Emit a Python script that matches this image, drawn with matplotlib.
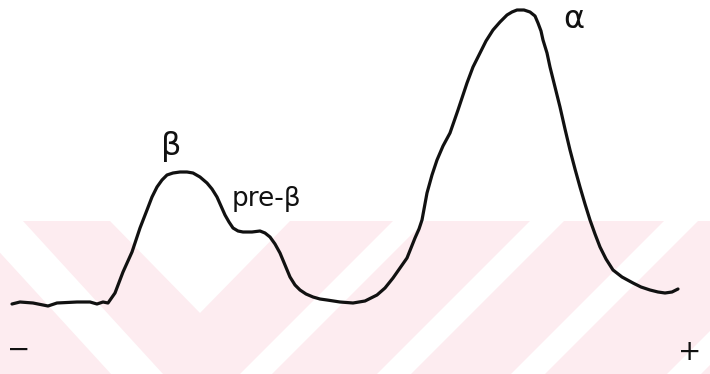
import matplotlib
matplotlib.use("Agg")
import matplotlib.pyplot as plt
from matplotlib.patches import Polygon, Rectangle

# Densitometer trace (migration position, height measured from bottom of figure)
position = [12, 20, 33, 48, 57, 77, 90, 97, 103, 108, 115, 123, 132, 140, 147, 152, 157, 162, 167,
            173, 180, 187, 193, 200, 207, 212, 217, 221, 225, 229, 233, 238, 243, 252, 260, 265, 270,
            275, 280, 285, 290, 295, 300, 306, 313, 320, 327, 340,
            353, 365, 377, 385, 393, 400, 407, 411, 415, 419, 422, 427, 432, 437, 443, 450, 458, 467,
            473, 480, 486, 493, 500, 507, 512, 517, 524, 530, 535, 538, 541, 543, 547, 550,
            555, 560, 565, 570, 575, 580, 585, 590, 595, 600, 606, 613, 622, 633, 641, 650, 658, 665, 672, 678]
ypix = [304, 302, 303, 306, 303, 302, 302, 304, 302, 303, 293, 272, 252, 228, 210, 197, 187, 180, 175,
        173, 172, 172, 173, 177, 183, 189, 197, 206, 215, 222, 228, 231, 232, 232, 231, 233, 237,
        244, 253, 265, 277, 285, 290, 294, 297, 299, 300, 302,
        303, 301, 295, 288, 278, 268, 258, 248, 238, 229, 220, 193, 175, 160, 146, 133, 110, 83,
        67, 53, 41, 30, 22, 15, 12, 10, 10, 12, 16, 23, 31, 40, 53, 67,
        87, 107, 129, 150, 169, 187, 204, 220, 234, 247, 259, 270, 277, 283, 287, 290, 292, 293, 292, 289]
H = 374
height = [H - v for v in ypix]

labels = ["β", "pre-β", "α"]
label_pos = [(171, 146), (266, 199), (574, 19)]
label_size = [23, 19, 23]
poles = ["−", "+"]
pole_pos = [(19, 350), (690, 352)]

fig = plt.figure(figsize=(7.10, 3.74), dpi=100)
ax = fig.add_axes([0, 0, 1, 1])
ax.set_xlim(0, 710)
ax.set_ylim(0, H)
ax.axis("off")

# faint watermark band
pink = "#fdecf0"
top = H - 221
ax.add_patch(Rectangle((0, 0), 710, top, facecolor=pink, edgecolor="none", zorder=0))
def wy(y):
    return H - y
white_polys = [
    [(-29, 221), (23, 221), (163, 374), (111, 374)],
    [(110, 221), (290, 221), (200, 313)],
    [(393, 221), (425, 221), (272, 374), (240, 374)],
    [(530, 221), (564, 221), (411, 374), (377, 374)],
    [(664, 221), (698, 221), (545, 374), (511, 374)],
    [(820, 221), (854, 221), (701, 374), (667, 374)],
]
for poly in white_polys:
    ax.add_patch(Polygon([(x, wy(y)) for x, y in poly], closed=True,
                         facecolor="white", edgecolor="none", zorder=0.5))

ax.plot(position, height, color="#111111", lw=2.3, solid_capstyle="round",
        solid_joinstyle="round", zorder=3)

for lab, (x, y), f in zip(labels, label_pos, label_size):
    ax.text(x, H - y, lab, fontsize=f, ha="center", va="center", color="#111111",
            family="DejaVu Sans", zorder=4)
for lab, (x, y) in zip(poles, pole_pos):
    ax.text(x, H - y, lab, fontsize=20, ha="center", va="center", color="#111111",
            family="DejaVu Sans", zorder=4)

fig.savefig("out.png", dpi=100)
